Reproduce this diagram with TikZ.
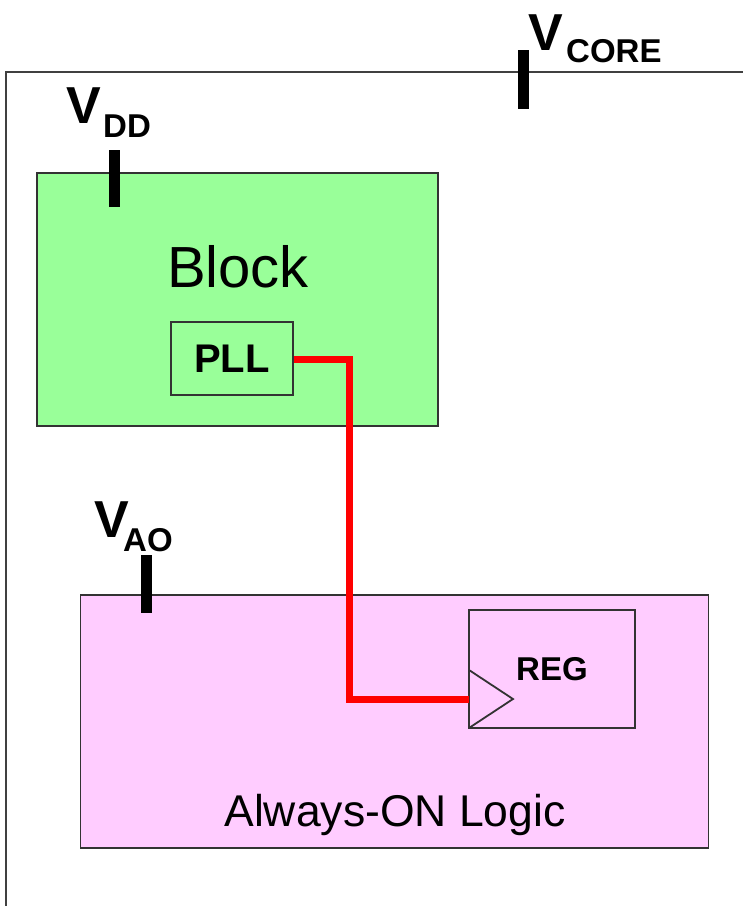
\documentclass[tikz,border=0pt]{standalone}
\usepackage{fontspec}
\setmainfont{Liberation Sans}
\begin{document}
\begin{tikzpicture}[x=1pt,y=-1pt,
  frame/.style={draw=black!75,line width=1.8pt},
  boxline/.style={draw=black!80,line width=1.8pt},
  rail/.style={line width=11pt},
  wire/.style={draw=red,line width=7pt},
  vbig/.style={font=\bfseries\fontsize{52}{52}\selectfont,inner sep=0pt,anchor=base west},
  vsub/.style={font=\bfseries\fontsize{33}{33}\selectfont,inner sep=0pt,anchor=base west}]
\useasboundingbox (0,0) rectangle (743,906);
% outer core frame
\coordinate (ftr) at (745,72);
\coordinate (ftl) at (6,72);
\coordinate (fbl) at (6,908);
\draw[frame] (ftr) -- (ftl) -- (fbl);
% blocks
\node[boxline,fill={rgb,255:red,153;green,255;blue,153},minimum width=401pt,minimum height=253pt,inner sep=0pt] (block) at (237.5,299.5) {};
\node[font=\fontsize{58}{58}\selectfont] (blocklbl) at (238,267) {Block};
\node[boxline,minimum width=122pt,minimum height=73pt,inner sep=0pt,font=\bfseries\fontsize{40}{40}\selectfont] (pll) at (232,358.5) {PLL};
\node[boxline,fill={rgb,255:red,255;green,204;blue,255},minimum width=628pt,minimum height=253pt,inner sep=0pt] (ao) at (394.5,721.5) {};
\node[font=\fontsize{44.5}{44.5}\selectfont] (aolbl) at (395,815) {Always-ON Logic};
\node[boxline,minimum width=166pt,minimum height=118pt,inner sep=0pt] (reg) at (552,669) {};
\node[font=\bfseries\fontsize{33}{33}\selectfont] (reglbl) at (552,669) {REG};
\coordinate (clk) at (469,699);
\coordinate (clkt) at (469,670);
\coordinate (clkb) at (469,728);
\coordinate (clktip) at (513,699);
% red wire
\coordinate (bend1) at (349,359);
\coordinate (bend2) at (349,699);
\draw[wire,line join=miter] (pll.east |- bend1) -- (bend1) -- (bend2) -- (clk);
\draw[boxline,line join=miter] (clkt) -- (clktip) -- (clkb);
% supply rails
\coordinate (vcoreT) at (523,50);
\coordinate (vcoreB) at (523,109);
\draw[rail] (vcoreT) -- (vcoreB);
\coordinate (vddT) at (114,150);
\coordinate (vddB) at (114,207);
\draw[rail] (vddT) -- (vddB);
\coordinate (vaoT) at (146.5,555);
\coordinate (vaoB) at (146.5,613);
\draw[rail] (vaoT) -- (vaoB);
% labels
\node[vbig] (vcore) at (528,50) {V};
\node[vsub] (vcoresub) at (566,62) {CORE};
\node[vbig] (vdd) at (66,123) {V};
\node[vsub] (vddsub) at (103,137) {DD};
\node[vbig] (vao) at (94,537) {V};
\node[vsub] (vaosub) at (123,551) {AO};
\end{tikzpicture}
\end{document}
